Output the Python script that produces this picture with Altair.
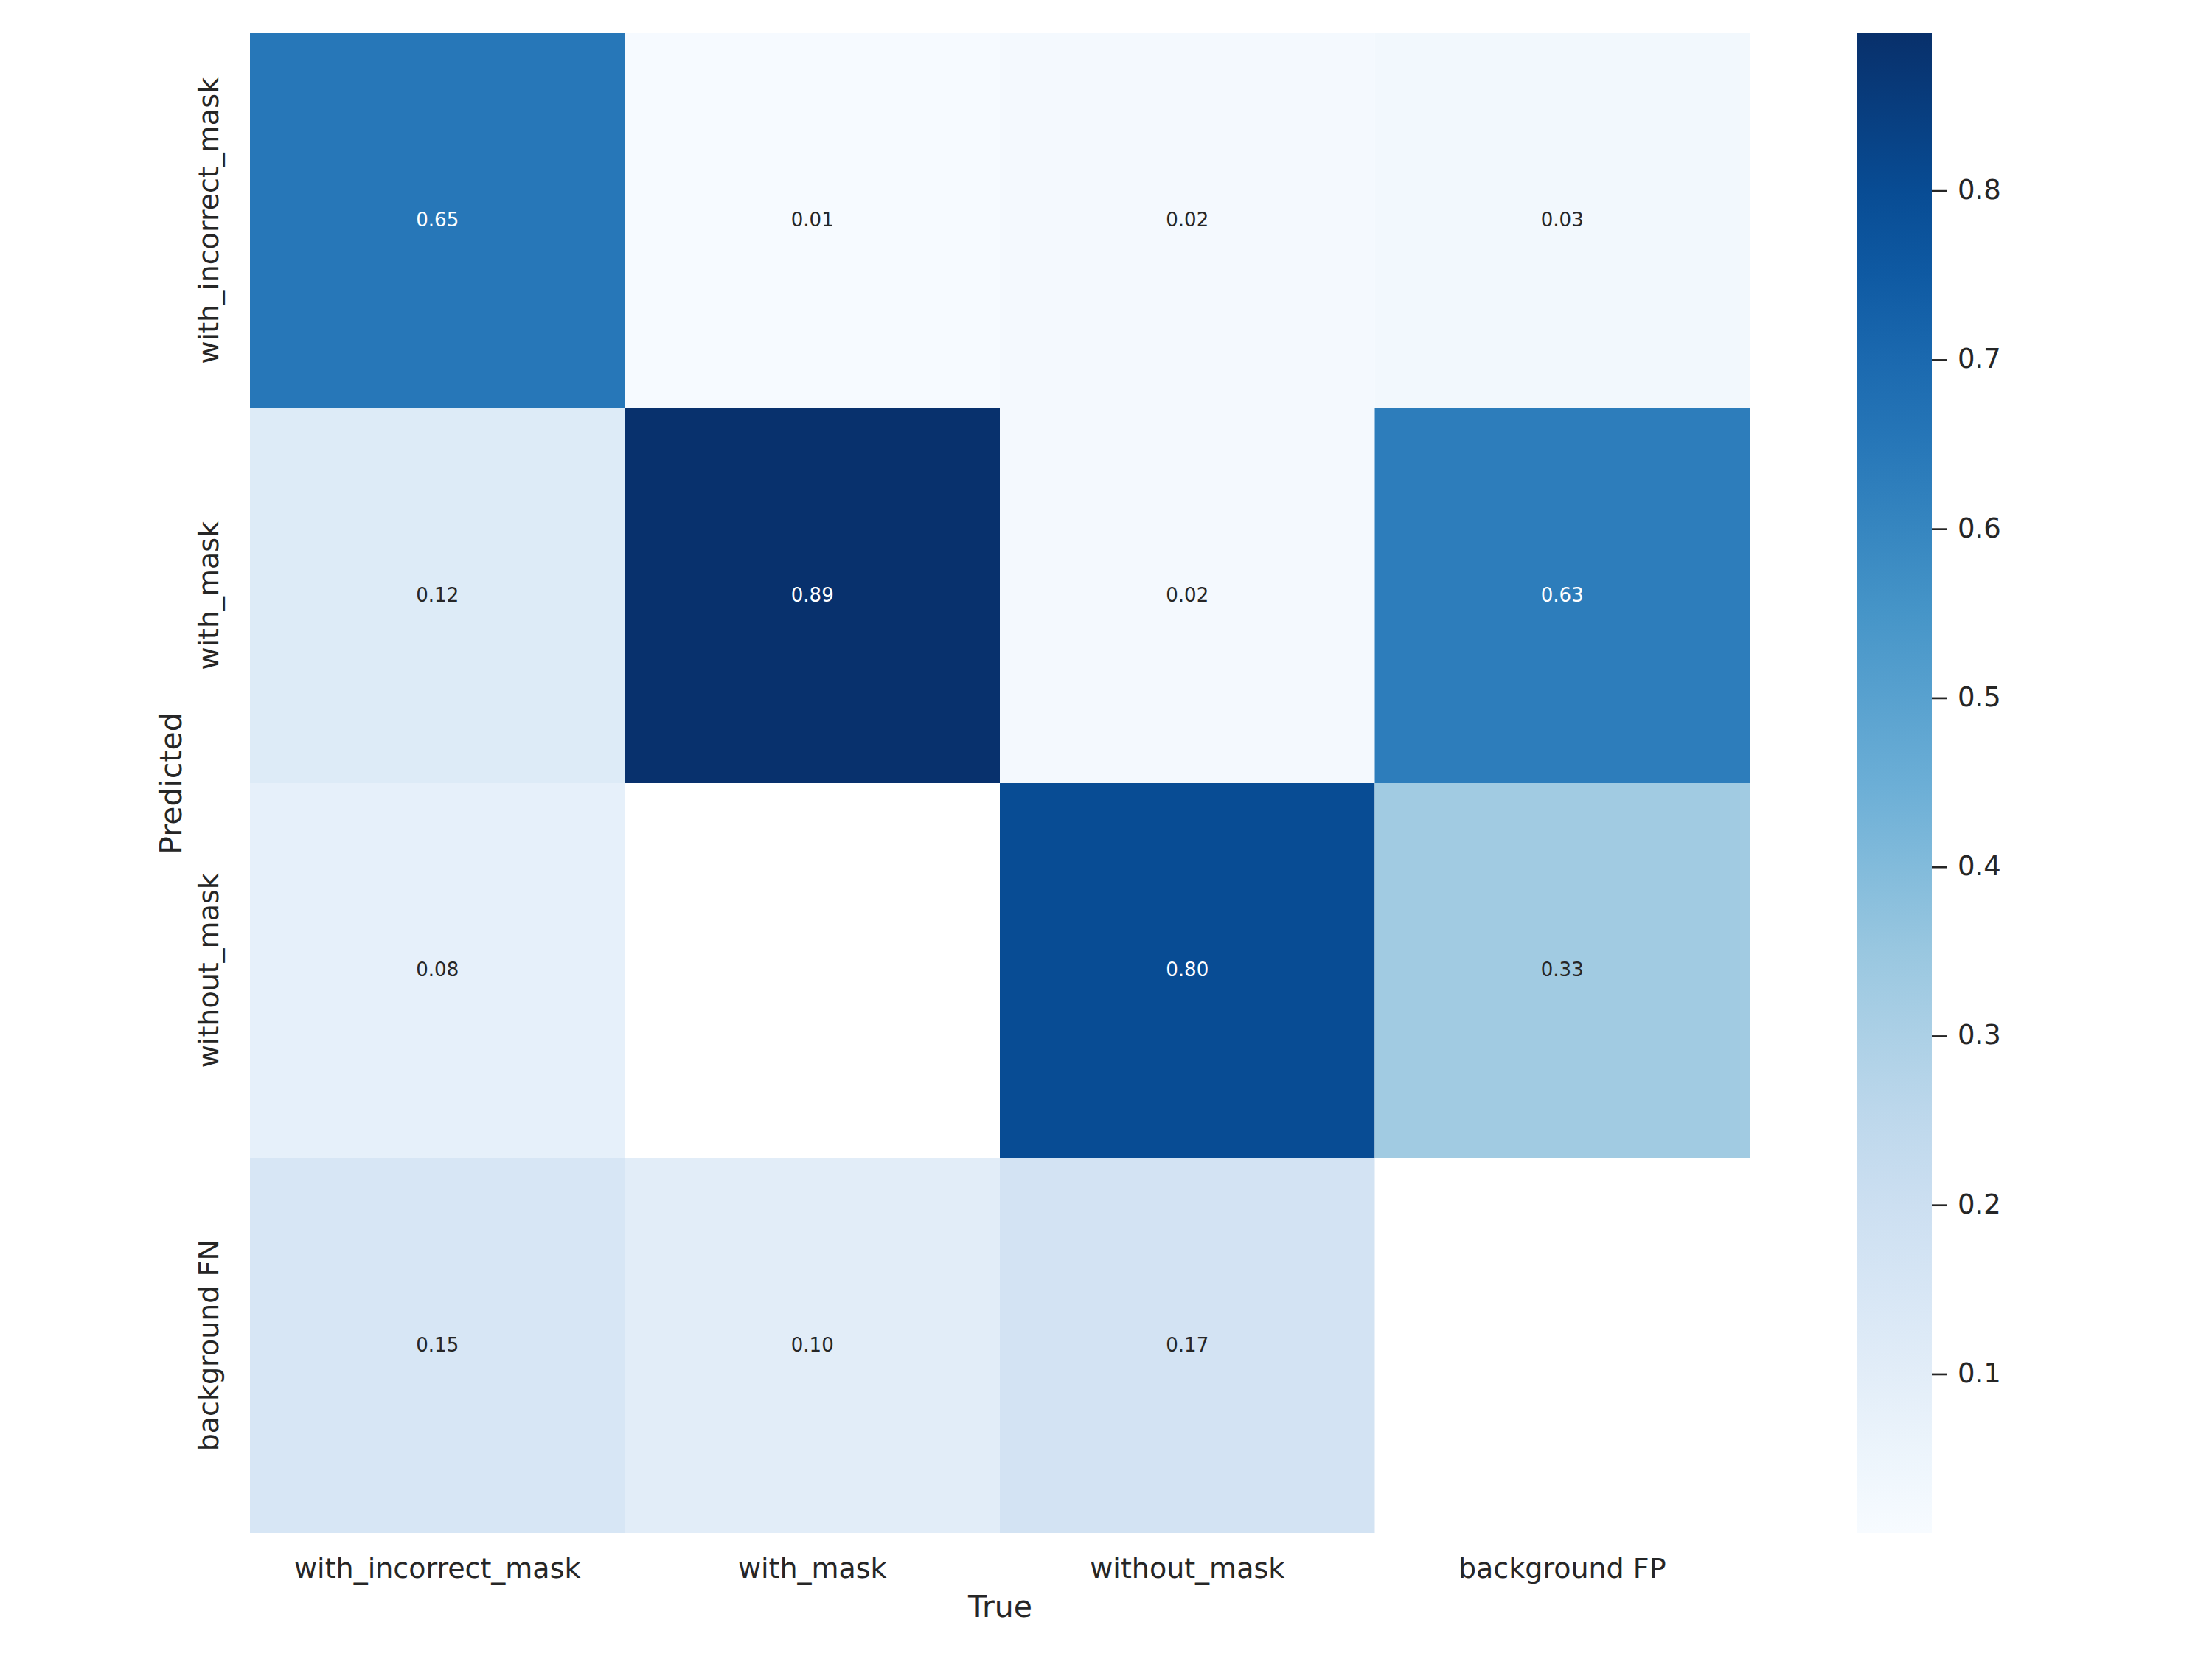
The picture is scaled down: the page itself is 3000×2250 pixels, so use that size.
import altair as alt
import pandas as pd

true_labels = ["with_incorrect_mask", "with_mask", "without_mask", "background FP"]
pred_labels = ["with_incorrect_mask", "with_mask", "without_mask", "background FN"]

# rows = Predicted, columns = True (None = blank cell)
row_with_incorrect_mask = [0.65, 0.01, 0.02, 0.03]
row_with_mask = [0.12, 0.89, 0.02, 0.63]
row_without_mask = [0.08, None, 0.80, 0.33]
row_background_fn = [0.15, 0.10, 0.17, None]
matrix = [row_with_incorrect_mask, row_with_mask, row_without_mask, row_background_fn]

color_min = 0.0062
color_max = 0.8934
colorbar_ticks = [0.1, 0.2, 0.3, 0.4, 0.5, 0.6, 0.7, 0.8]

blues = ["#f7fbff", "#deebf7", "#c6dbef", "#9ecae1", "#6baed6",
         "#4292c6", "#2171b5", "#08519c", "#08306b"]
n = len(blues) - 1
stops = [color_min + i * (color_max - color_min) / n for i in range(n + 1)]

rows = []
for i, p in enumerate(pred_labels):
    for j, t in enumerate(true_labels):
        v = matrix[i][j]
        if v is not None:
            rows.append({"Predicted": p, "True": t, "value": v})
df = pd.DataFrame(rows)
ticks_df = pd.DataFrame({"tick": colorbar_ticks})

W = 2034
H = 2034
FONT = "DejaVu Sans"
TXT = "#262626"

x_enc = alt.X("True:N", sort=true_labels, title="True",
              scale=alt.Scale(paddingInner=0, paddingOuter=0),
              axis=alt.Axis(labelAngle=0, ticks=False, domain=False,
                            labelPadding=30, titlePadding=13, labelLimit=0))
y_enc = alt.Y("Predicted:N", sort=pred_labels, title="Predicted",
              scale=alt.Scale(paddingInner=0, paddingOuter=0),
              axis=alt.Axis(labelAngle=-90, labelAlign="center",
                            labelBaseline="bottom", ticks=False, domain=False,
                            labelPadding=36, titlePadding=11, labelLimit=0))

rect = alt.Chart(df).mark_rect().encode(
    x=x_enc,
    y=y_enc,
    color=alt.Color("value:Q",
                    scale=alt.Scale(domain=stops, range=blues, interpolate="rgb"),
                    legend=alt.Legend(title=None, orient="none",
                                      legendX=2180, legendY=0,
                                      direction="vertical",
                                      gradientLength=H, gradientThickness=101,
                                      gradientStrokeWidth=0,
                                      values=colorbar_ticks, format=".1f",
                                      labelOffset=35, labelFontSize=37,
                                      labelFont=FONT, labelColor=TXT,
                                      labelOverlap=False)),
)

text = alt.Chart(df).mark_text(font=FONT, fontSize=26).encode(
    x=alt.X("True:N", sort=true_labels),
    y=alt.Y("Predicted:N", sort=pred_labels),
    text=alt.Text("value:Q", format=".2f"),
    color=alt.condition(alt.datum.value > 0.5, alt.value("white"), alt.value(TXT)),
)

heat = alt.layer(rect, text)

cbar_ticks = alt.Chart(ticks_df).mark_rule(color=TXT, strokeWidth=2.7).encode(
    y=alt.Y("tick:Q", scale=alt.Scale(domain=[color_min, color_max]), axis=None),
    x=alt.value(2281),
    x2=alt.value(2302),
)

chart = alt.layer(heat, cbar_ticks).resolve_scale(
    y="independent"
).properties(
    width=W, height=H,
    autosize=alt.AutoSizeParams(type="none"),
    padding={"left": 331, "top": 37, "right": 600, "bottom": 150},
).configure_view(stroke=None).configure_axis(
    labelFont=FONT, titleFont=FONT, labelFontSize=38, titleFontSize=41,
    labelColor=TXT, titleColor=TXT, titleFontWeight="normal",
)

chart.save("out.html", embed_options={"renderer": "svg", "actions": False})
